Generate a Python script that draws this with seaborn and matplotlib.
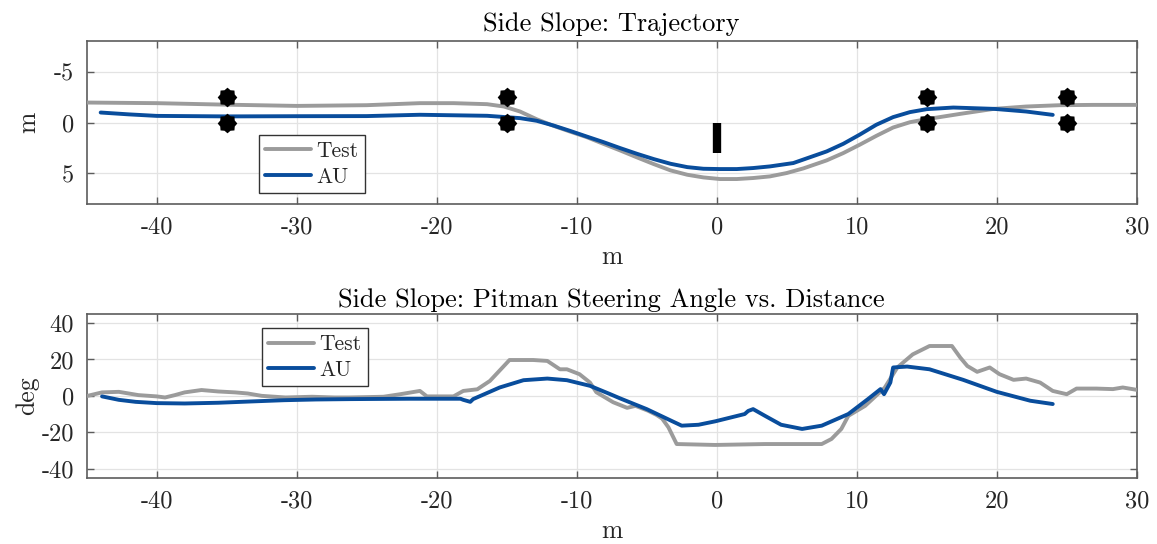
import numpy as np
import matplotlib
matplotlib.use("Agg")
import matplotlib.pyplot as plt
import seaborn as sns

# ---- trajectory (top panel) ----
traj_test_x = [-45, -40, -35, -30, -25, -21.2, -18.8, -16.4, -15.2, -14.05, -12.86, -11.67,
               -10.5, -9.3, -8.1, -6.9, -5.7, -4.5, -3.3, -2.1, -0.95, 0.24, 1.43, 2.6, 3.8,
               5.0, 6.2, 7.85, 9.04, 10.2, 11.4, 12.6, 13.8, 15.0, 17.4, 19.8, 22.1, 24.5,
               26.9, 30]
traj_test_y = [-1.96, -1.9, -1.75, -1.63, -1.7, -1.9, -1.9, -1.8, -1.57, -1.08, -0.32, 0.32,
               0.88, 1.43, 2.09, 2.74, 3.42, 4.08, 4.7, 5.13, 5.39, 5.55, 5.55, 5.45, 5.29,
               4.96, 4.5, 3.72, 3.0, 2.19, 1.31, 0.49, -0.03, -0.33, -0.85, -1.34, -1.57, -1.7,
               -1.73, -1.73]

traj_au_x = [-44, -42, -40, -35, -30, -25, -21.2, -16.4, -14.05, -12.86, -11.67, -10.5, -9.3,
             -8.1, -6.9, -5.7, -4.5, -3.3, -2.1, -0.95, 0.24, 1.43, 2.6, 3.8, 5.47, 7.85,
             9.04, 10.2, 11.4, 12.6, 13.8, 15.0, 16.9, 19.8, 22.1, 24.0]
traj_au_y = [-0.98, -0.8, -0.65, -0.6, -0.62, -0.63, -0.76, -0.66, -0.43, -0.17, 0.29, 0.81,
             1.37, 1.92, 2.51, 3.07, 3.59, 4.05, 4.38, 4.54, 4.57, 4.57, 4.47, 4.31, 3.98,
             2.84, 2.09, 1.2, 0.22, -0.53, -1.02, -1.31, -1.47, -1.34, -1.08, -0.75]

# gate cones and obstacle post
gate_x = [-35, -35, -15, -15, 15, 15, 25, 25]
gate_y = [-2.5, 0, -2.5, 0, -2.5, 0, -2.5, 0]
post_x = [0, 0]
post_y = [0, 3]

# ---- pitman steering angle (bottom panel) ----
steer_test_x = [-45.1, -43.9, -42.7, -41.3, -40, -39.4, -38.7, -38, -36.8, -35.6, -34.4, -33.5,
                -32.5, -30.8, -28.9, -27.3, -26.2, -23.8, -22.6, -21.2, -20.7, -20.0, -18.8,
                -18.1, -17.1, -16.2, -15.2, -14.8, -13.1, -12.1, -11.2, -10.7, -9.8, -9.05,
                -8.6, -7.4, -6.4, -5.8, -4.9, -4.3, -3.9, -3.45, -2.86, -0.12, 3.45, 7.5, 8.2,
                8.9, 9.4, 10.6, 11.5, 12.0, 12.9, 14.0, 15.2, 16.8, 17.4, 17.9, 18.6, 19.5,
                20.2, 21.2, 22.1, 23.1, 24.0, 25.0, 25.7, 27.1, 28.3, 29.0, 30]
steer_test_y = [-0.3, 1.9, 2.2, 0.4, -0.3, -0.9, 0.4, 1.9, 3.2, 2.4, 1.9, 1.3,
                0, -0.9, -0.5, -0.9, -0.9, -0.5, 0.9, 2.7, -0.3, -0.3, -0.3,
                2.7, 3.6, 8.2, 16.4, 19.7, 19.7, 19.2, 14.6, 14.6, 11.9, 7.3,
                2.0, -3.5, -6.6, -5.5, -8.2, -10.5, -12.5, -17.3, -26.5, -27.0, -26.5, -26.5, -23.7,
                -18.2, -11, -5.5, 0.9, 4.5, 15.6, 22.8, 27.4, 27.4, 21.0, 16.4, 13.2, 15.6,
                11.9, 8.8, 9.5, 7.3, 2.7, 0.9, 4.0, 4.0, 3.7, 4.6, 3.3]

steer_au_x = [-43.9, -42.7, -41.5, -40, -38, -35.6, -33.3, -30.9, -28.6, -26.2, -22, -18.3,
              -18.1, -17.6, -17.4, -15.5, -13.8, -12.1, -10.7, -9.05, -7.6, -6.9, -5.0, -3.0,
              -2.5, -1.3, -0.1, 2.0, 2.25, 2.6, 3.45, 4.6, 6.1, 7.5, 9.4, 10.8, 11.7, 11.95,
              12.4, 12.6, 13.6, 15.2, 17.6, 20.0, 22.4, 24.0]
steer_au_y = [-0.3, -2.2, -3.3, -4.0, -4.2, -3.8, -3.1, -2.4, -2.0, -1.8, -1.6, -1.6,
              -2.2, -3.3, -1.8, 4.6, 8.6, 9.5, 8.6, 5.5, 0.9, -1.4, -7.3, -14.6,
              -16.4, -15.9, -14.0, -10.0, -8.3, -7.3, -11, -15.9, -18.2, -16.4, -10, -1.8, 3.7, 0.9,
              7.3, 15.6, 16.1, 14.6, 8.8, 2.2, -2.7, -4.5]

x_ticks = [-40, -30, -20, -10, 0, 10, 20, 30]
traj_y_ticks = [-5, 0, 5]
steer_y_ticks = [-40, -20, 0, 20, 40]

GRAY = "#9b9b9b"
BLUE = "#094d9c"
SPINE = "#5c5c5c"
TEXT = "#262626"

sns.set_style("ticks")
plt.rcParams["font.family"] = ["cmr10", "DejaVu Serif"]
plt.rcParams["mathtext.fontset"] = "cm"
plt.rcParams["axes.unicode_minus"] = False
plt.rcParams["axes.formatter.use_mathtext"] = False

# filled many-pointed star used for gate cones
n_pts = 8
ang = np.linspace(0, 2 * np.pi, 2 * n_pts, endpoint=False) + np.pi / 2
rad = np.where(np.arange(2 * n_pts) % 2 == 0, 1.0, 0.8)
cone_marker = np.column_stack([rad * np.cos(ang), rad * np.sin(ang)])

fig = plt.figure(figsize=(11.57, 5.44), dpi=100)
ax1 = fig.add_axes([0.0749, 0.625, 0.9076, 0.2996])
ax2 = fig.add_axes([0.0749, 0.1219, 0.9076, 0.3009])

LW = 2.8

sns.lineplot(x=traj_test_x, y=traj_test_y, ax=ax1, color=GRAY, lw=LW, label="Test",
             sort=False, estimator=None, zorder=3)
sns.lineplot(x=traj_au_x, y=traj_au_y, ax=ax1, color=BLUE, lw=LW, label="AU",
             sort=False, estimator=None, zorder=4)
sns.scatterplot(x=gate_x, y=gate_y, ax=ax1, marker=cone_marker, s=200, color="black",
                edgecolor="black", linewidth=0, legend=False, zorder=5)
sns.lineplot(x=post_x, y=post_y, ax=ax1, color="black", lw=6, sort=False, estimator=None,
             legend=False, zorder=5, solid_capstyle="butt")

sns.lineplot(x=steer_test_x, y=steer_test_y, ax=ax2, color=GRAY, lw=LW, label="Test",
             sort=False, estimator=None, zorder=3)
sns.lineplot(x=steer_au_x, y=steer_au_y, ax=ax2, color=BLUE, lw=LW, label="AU",
             sort=False, estimator=None, zorder=4)

ax1.set_xlim(-45, 30)
ax1.set_ylim(8, -8)
ax1.set_yticks(traj_y_ticks)
ax2.set_xlim(-45, 30)
ax2.set_ylim(-45, 45)
ax2.set_yticks(steer_y_ticks)

FS_TICK = 17.5
FS_LAB = 18.5
FS_TITLE = 19
FS_LEG = 15.5
for ax in (ax1, ax2):
    ax.set_xticks(x_ticks)
    ax.grid(True, color="#e3e3e3", lw=0.9)
    ax.set_axisbelow(True)
    ax.tick_params(direction="in", top=True, right=True, length=5, width=1.0,
                   color=SPINE, labelsize=FS_TICK, labelcolor=TEXT, pad=9)
    for sp in ax.spines.values():
        sp.set_color(SPINE)
        sp.set_linewidth(1.2)
        sp.set_visible(True)
    ax.set_xlabel("m", fontsize=FS_LAB, color=TEXT, labelpad=5)

ax1.set_ylabel("m", fontsize=FS_LAB, color=TEXT, labelpad=10)
ax2.set_ylabel("deg", fontsize=FS_LAB, color=TEXT, labelpad=2)
ax1.set_title("Side Slope: Trajectory", fontsize=FS_TITLE, color="black", pad=7)
ax2.set_title("Side Slope: Pitman Steering Angle vs. Distance", fontsize=FS_TITLE,
              color="black", pad=5)

leg_kw = dict(fontsize=FS_LEG, frameon=True, fancybox=False, framealpha=1,
              edgecolor="#333333", handlelength=2.1, handletextpad=0.25,
              borderpad=0.3, labelspacing=0.3, borderaxespad=0)
l1 = ax1.legend(loc="lower left", bbox_to_anchor=(0.164, 0.067), **leg_kw)
l2 = ax2.legend(loc="upper left", bbox_to_anchor=(0.167, 0.914), **leg_kw)
for lg in (l1, l2):
    lg.get_frame().set_linewidth(1.0)

fig.savefig("out.png", dpi=100, facecolor="white")
